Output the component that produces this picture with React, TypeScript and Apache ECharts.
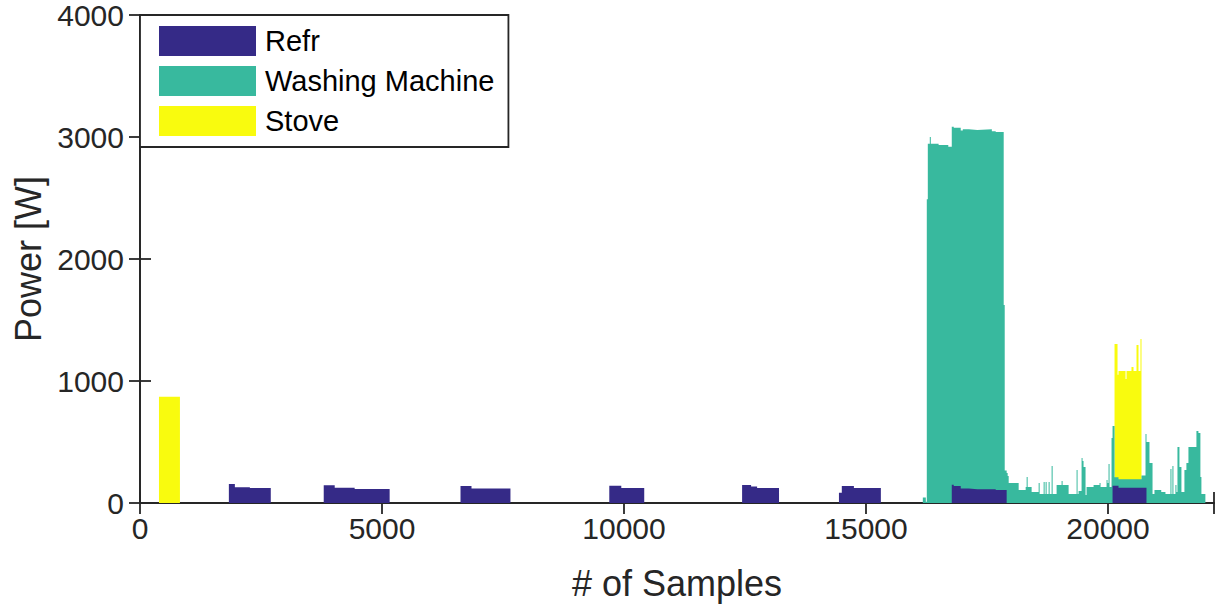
import React, { useEffect, useRef } from 'react';
import * as echarts from 'echarts';

// ---- data (sample index where a level starts, power level in W) ----
const seriesNames = ['Refr', 'Washing Machine', 'Stove'];
const seriesColors = ['#352a87', '#38b99e', '#f9fb0e'];

const refrStart = [
  1836, 1960, 2270, 2702,
  3796, 4023, 4435, 5158,
  6622, 6849, 7654,
  9696, 9944, 10418,
  12440, 12626, 12750, 13203,
  14441, 14500, 14750, 15307,
  16772, 16813, 16957, 17123, 17680, 17906,
  20094, 20217, 20795,
];
const refrPower = [
  155, 130, 122, 0,
  145, 126, 115, 0,
  140, 118, 0,
  142, 123, 0,
  148, 136, 123, 0,
  85, 140, 123, 0,
  150, 140, 118, 113, 107, 0,
  142, 125, 0,
];

const washStart = [
  16174, 16236, 16256, 16277, 16318, 16339, 16500, 16700, 16772, 17000, 17300, 17600,
  17845, 17866, 17906, 17927, 17948, 18154, 18299, 18319, 18340, 18422, 18567, 18588,
  18670, 18691, 18711, 18732, 18773, 18794, 18835, 18856, 18938, 19041, 19062, 19186,
  19351, 19371, 19392, 19454, 19474, 19495, 19536, 19557, 19702, 19825, 19846, 19970,
  19990, 20011, 20032, 20073, 20094, 20135, 20692, 20775, 20795, 20857, 20920, 20960,
  21100, 21187, 21290, 21311, 21331, 21352, 21393, 21414, 21435, 21476, 21517, 21579,
  21620, 21662, 21827, 21868, 21909, 21930, 22012,
];
const washPower = [
  45, 10, 2490, 2945, 3000, 2945, 2935, 2920, 2935, 2945, 2950, 2935,
  1516, 160, 246, 221, 164, 107, 131, 213, 131, 90, 164, 74,
  172, 74, 172, 74, 172, 74, 303, 74, 148, 180, 148, 74,
  270, 74, 98, 369, 344, 295, 66, 131, 148, 164, 131, 189,
  164, 320, 131, 533, 489, 70, 100, 440, 500, 328, 74, 107,
  90, 74, 279, 74, 303, 74, 148, 90, 459, 295, 90, 270,
  328, 459, 590, 574, 213, 74, 0,
];

const stoveStart = [392, 825, 20135, 20197, 20217, 20362, 20383, 20485, 20527, 20589, 20630, 20671, 20692];
const stovePower = [870, 0, 1091, 840, 887, 821, 887, 920, 887, 1100, 887, 1149, 0];

const xMax = 22190;
const xTicks = [0, 5000, 10000, 15000, 20000];
const yTicks = [0, 1000, 2000, 3000, 4000];

const FONT = "'Liberation Sans', Arial, Helvetica, sans-serif";
const AXIS_COLOR = '#262626';

function levelAt(starts: number[], powers: number[], x: number): number {
  let v = 0;
  for (let i = 0; i < starts.length; i++) {
    if (starts[i] <= x) v = powers[i];
    else break;
  }
  return v;
}

// Cumulative (stacked) levels, as in a stacked area plot: Refr at the bottom, then
// Washing Machine, then Stove on top. Where a layer is 0 its top is dropped to 0
// (it is hidden beneath the lower layers anyway) so no edge fringes show.
function buildStackedData() {
  const set = new Set<number>([0, xMax]);
  [refrStart, washStart, stoveStart].forEach((arr) => arr.forEach((s) => set.add(s)));
  const grid = Array.from(set).sort((a, b) => a - b);
  const sets: [number[], number[]][] = [
    [refrStart, refrPower],
    [washStart, washPower],
    [stoveStart, stovePower],
  ];
  const out: number[][][] = [[], [], []];
  grid.forEach((x) => {
    let acc = 0;
    sets.forEach(([st, pw], i) => {
      const v = x >= xMax ? 0 : levelAt(st, pw, x);
      acc += v;
      out[i].push([x, v > 0 ? acc : 0]);
    });
  });
  return out;
}

export default function App() {
  const ref = useRef<HTMLDivElement>(null);
  useEffect(() => {
    if (!ref.current) return;
    const chart = echarts.init(ref.current, undefined, { renderer: 'svg' });
    const data = buildStackedData();
    const tickFmt = (v: number) => (xTicks.indexOf(v) >= 0 ? String(v) : '');
    const yFmt = (v: number) => (yTicks.indexOf(v) >= 0 ? String(v) : '');
    const axisLine = { show: true, lineStyle: { color: AXIS_COLOR, width: 1.8 } };
    const axisTick = { show: true, inside: true, length: 11, lineStyle: { color: AXIS_COLOR, width: 1.8 } };
    // draw the top of the stack first so lower layers are painted over it
    const order = [2, 1, 0];
    chart.setOption({
      animation: false,
      backgroundColor: '#ffffff',
      grid: { left: 140, right: 1, top: 15, bottom: 103, containLabel: false },
      legend: {
        show: true,
        orient: 'vertical',
        left: 140,
        top: 15,
        icon: 'rect',
        itemWidth: 97,
        itemHeight: 30,
        itemGap: 10,
        padding: [11, 14, 11, 19],
        backgroundColor: '#ffffff',
        borderColor: AXIS_COLOR,
        borderWidth: 1.8,
        borderRadius: 0,
        itemStyle: { borderWidth: 0 },
        textStyle: { fontSize: 29, fontFamily: FONT, color: '#000000', padding: [0, 0, 0, 4] },
        data: seriesNames,
      },
      xAxis: [
        {
          type: 'value',
          position: 'bottom',
          min: 0,
          max: xMax,
          interval: 5000,
          axisLine,
          axisTick,
          splitLine: { show: false },
          axisLabel: { show: true, fontSize: 30, fontFamily: FONT, color: AXIS_COLOR, margin: 10, formatter: tickFmt },
          name: '# of Samples',
          nameLocation: 'middle',
          nameGap: 62,
          nameTextStyle: { fontSize: 36, fontFamily: FONT, color: AXIS_COLOR },
        },
        {
          type: 'value',
          position: 'top',
          min: 0,
          max: xMax,
          interval: 5000,
          axisLine,
          axisTick,
          splitLine: { show: false },
          axisLabel: { show: false },
        },
      ],
      yAxis: [
        {
          type: 'value',
          position: 'left',
          min: 0,
          max: 4000,
          interval: 1000,
          axisLine,
          axisTick,
          splitLine: { show: false },
          axisLabel: { show: true, fontSize: 30, fontFamily: FONT, color: AXIS_COLOR, margin: 16, formatter: yFmt },
          name: 'Power [W]',
          nameLocation: 'middle',
          nameGap: 92,
          nameTextStyle: { fontSize: 36, fontFamily: FONT, color: AXIS_COLOR },
        },
        {
          type: 'value',
          position: 'right',
          min: 0,
          max: 4000,
          interval: 1000,
          axisLine,
          axisTick,
          splitLine: { show: false },
          axisLabel: { show: false },
        },
      ],
      series: order.map((i) => ({
        name: seriesNames[i],
        type: 'line',
        xAxisIndex: 0,
        yAxisIndex: 0,
        step: 'end',
        symbol: 'none',
        showSymbol: false,
        color: seriesColors[i],
        itemStyle: { color: seriesColors[i] },
        lineStyle: { width: 0, color: seriesColors[i] },
        areaStyle: { color: seriesColors[i], opacity: 1, origin: 'start' },
        emphasis: { disabled: true },
        data: data[i],
      })),
    });
    return () => chart.dispose();
  }, []);
  return (
    <div
      ref={ref}
      style={{ position: 'fixed', left: 0, top: 0, width: 1217, height: 606, background: '#fff' }}
    />
  );
}
